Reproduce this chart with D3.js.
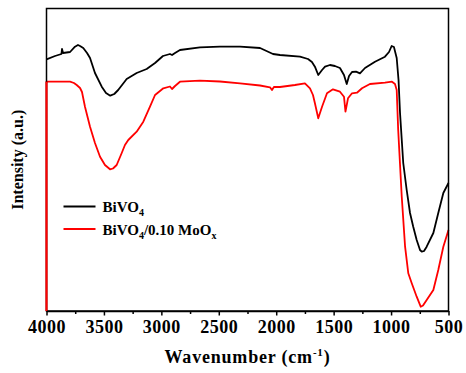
<!DOCTYPE html>
<html>
<head>
<meta charset="utf-8">
<script src="https://cdn.jsdelivr.net/npm/d3@7"></script>
<style>
  body { margin: 0; background: #fff; }
  text { font-family: "Liberation Serif", "Times New Roman", serif; font-weight: bold; }
</style>
</head>
<body>
<div id="chart"></div>
<script>

// FTIR spectra, wavenumber (cm-1) and intensity (arbitrary units)
var bivo4Wave = [4000, 3926, 3870, 3865, 3856, 3795, 3752, 3726, 3708, 3680, 3647, 3621, 3578, 3519, 3482, 3445,
	3410, 3376, 3302, 3215, 3128, 3055, 2986, 2925, 2907, 2881, 2838, 2664, 2490, 2315, 2141, 2028, 1967,
	1793, 1723, 1689, 1663, 1634, 1601, 1575, 1532, 1489, 1445, 1410, 1386, 1366, 1340, 1305, 1271, 1227,
	1140, 1053, 1018, 995, 975, 951, 935, 922, 894, 864, 835, 807, 777, 748, 733, 713, 690, 632, 589, 545, 500];
var bivo4Val = [251.7, 255, 257, 262, 258, 259, 264.3, 266, 265, 263, 258, 253, 238, 224.3, 218, 215.3,
	217, 221, 232, 238, 242, 248, 255, 257, 256, 258, 261, 263.7, 264.3, 264.3, 263, 257, 256,
	254.3, 252, 249, 244.3, 236, 241, 244.3, 246, 245, 243, 236, 227, 235, 239, 239.3, 237.7, 243,
	249.3, 254.3, 259, 265, 264, 253, 231, 198, 148, 121, 98, 84.3, 71, 61, 59.3, 60, 64.3, 78, 98, 118, 128];

var moWave = [4000, 4000, 3882, 3795, 3761, 3737, 3708, 3691, 3665, 3621, 3578, 3534, 3491, 3447, 3421, 3389,
	3345, 3317, 3288, 3215, 3157, 3099, 3055, 3012, 2983, 2925, 2907, 2881, 2838, 2664, 2490, 2315, 2141,
	2054, 2037, 2020, 1967, 1837, 1750, 1706, 1680, 1663, 1634, 1601, 1558, 1506, 1445, 1410, 1397, 1375,
	1340, 1297, 1253, 1184, 1053, 992, 966, 951, 938, 907, 878, 850, 820, 777, 742, 722, 690, 632, 589, 545, 500];
var moVal = [0, 229.3, 229.3, 229.3, 228, 226, 223, 219, 204.3, 184.3, 168, 154.3, 146, 141.7, 142.5, 146,
	158, 166, 171, 179.3, 189.3, 204.3, 216, 220, 222.7, 224.5, 222, 225, 229.3, 230.3, 229.5, 227.7, 225.5,
	223.7, 221, 224, 224, 226, 227.7, 222.7, 216, 207.7, 192.7, 204.3, 217.7, 221.7, 219.3, 214.3, 199.3, 212.7,
	217.7, 218.3, 222.7, 227, 228.3, 229.3, 227, 221, 181, 114.3, 64.3, 37.7, 27.7, 14.3, 4.3, 5.5, 11, 21, 41, 64.3, 81];

var xTicks = [4000, 3500, 3000, 2500, 2000, 1500, 1000, 500];
var xMinor = [3750, 3250, 2750, 2250, 1750, 1250, 750];

var series = [
	{name: "BiVO", sub: "4", tail: "", color: "#000000", wave: bivo4Wave, val: bivo4Val},
	{name: "BiVO", sub: "4", tail: "/0.10 MoO", sub2: "x", color: "#ff0000", wave: moWave, val: moVal}
];

// margins
var margin = {top: 8.5, right: 17.5, bottom: 62, left: 46.5},
	width = 466 - margin.left - margin.right,
	height = 373 - margin.top - margin.bottom;

var svg = d3.select("#chart").append("svg")
	.attr("width", 466)
	.attr("height", 373);

var g = svg.append("g")
	.attr("transform", "translate(" + margin.left + "," + margin.top + ")");

var x = d3.scaleLinear().domain([4000, 500]).range([0, width]),
	y = d3.scaleLinear().domain([0, 302.5]).range([height, 0]);

// curves
var line = d3.line()
	.x(function(d){ return x(d[0]); })
	.y(function(d){ return y(d[1]); });

series.forEach(function(s){
	g.append("path")
		.datum(d3.zip(s.wave, s.val))
		.attr("fill", "none")
		.attr("stroke", s.color)
		.attr("stroke-width", 1.8)
		.attr("stroke-linejoin", "round")
		.attr("d", line);
});

// minor ticks
g.append("g")
	.attr("transform", "translate(0," + height + ")")
	.call(d3.axisBottom(x).tickValues(xMinor).tickSize(3).tickFormat(""))
	.call(function(a){ a.select(".domain").remove(); })
	.selectAll("line").attr("stroke-width", 1.5);

// x axis
var xAxis = g.append("g")
	.attr("transform", "translate(0," + height + ")")
	.call(d3.axisBottom(x).tickValues(xTicks).tickSize(4.5).tickSizeOuter(0).tickPadding(5).tickFormat(d3.format("d")));
xAxis.select(".domain").attr("stroke-width", 1.5);
xAxis.selectAll("line").attr("stroke-width", 1.5);
xAxis.selectAll("text")
	.style("font-size", "18px")
	.style("letter-spacing", "0.5px")
	.style("font-family", "'Liberation Serif', serif")
	.style("font-weight", "bold")
	.attr("fill", "#000");

// frame
g.append("rect")
	.attr("width", width)
	.attr("height", height)
	.attr("fill", "none")
	.attr("stroke", "#000")
	.attr("stroke-width", 1.5);

// redraw red left edge over the frame
g.append("path")
	.datum(d3.zip(moWave.slice(0, 2), moVal.slice(0, 2)))
	.attr("stroke", "#ff0000")
	.attr("stroke-width", 1.8)
	.attr("d", line);

// axis titles
var xt = svg.append("text")
	.attr("x", margin.left + width / 2)
	.attr("y", 363)
	.attr("text-anchor", "middle")
	.style("font-size", "18px")
	.style("letter-spacing", "0.8px");
xt.append("tspan").text("Wavenumber (cm");
xt.append("tspan").attr("dy", -7).style("font-size", "11px").text("-1");
xt.append("tspan").attr("dy", 7).text(")");

svg.append("text")
	.attr("transform", "translate(23," + (margin.top + height / 2) + ") rotate(-90)")
	.attr("text-anchor", "middle")
	.style("font-size", "16px")
	.text("Intensity (a.u.)");

// legend
var legend = g.selectAll(".legend")
	.data(series)
	.enter()
	.append("g")
	.attr("class", "legend")
	.attr("transform", function(d, i){ return "translate(17," + (198 + i * 22.5) + ")"; });

legend.append("line")
	.attr("x1", 0)
	.attr("x2", 32)
	.attr("stroke", function(d){ return d.color; })
	.attr("stroke-width", 2);

var lt = legend.append("text")
	.attr("x", 39)
	.attr("y", 5.5)
	.style("font-size", "15px");
lt.append("tspan").text(function(d){ return d.name; });
lt.append("tspan").attr("dy", 4).style("font-size", "10px").text(function(d){ return d.sub; });
lt.append("tspan").attr("dy", -4).text(function(d){ return d.tail; });
lt.filter(function(d){ return d.sub2; })
	.append("tspan").attr("dy", 4).style("font-size", "10px").text(function(d){ return d.sub2; });

</script>
</body>
</html>
